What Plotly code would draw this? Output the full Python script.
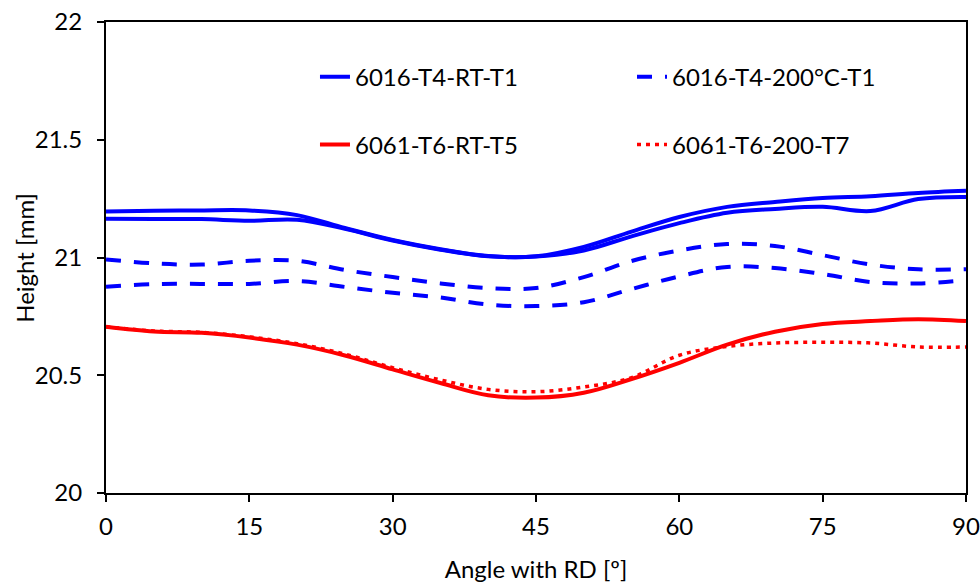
import plotly.graph_objects as go

# Angle from rolling direction (degrees)
angle = [0, 5, 10, 15, 20, 25, 30, 35, 40, 45, 50, 55, 60, 65, 70, 75, 80, 85, 90]

# Cup heights [mm]
t4_rt_a = [21.195, 21.198, 21.20, 21.20, 21.18, 21.125, 21.074, 21.035, 21.006, 21.005,
           21.045, 21.11, 21.172, 21.215, 21.236, 21.253, 21.26, 21.274, 21.283]
t4_rt_b = [21.165, 21.164, 21.163, 21.156, 21.16, 21.122, 21.072, 21.033, 21.005, 21.004,
           21.03, 21.09, 21.146, 21.19, 21.206, 21.215, 21.197, 21.248, 21.257]
t4_200_a = [20.992, 20.975, 20.97, 20.986, 20.986, 20.947, 20.917, 20.89, 20.87, 20.87,
            20.917, 20.985, 21.03, 21.057, 21.049, 21.01, 20.97, 20.95, 20.95]
t4_200_b = [20.876, 20.887, 20.888, 20.888, 20.90, 20.875, 20.85, 20.83, 20.80, 20.794,
            20.81, 20.866, 20.92, 20.96, 20.955, 20.93, 20.896, 20.89, 20.904]
t6_rt = [20.706, 20.686, 20.68, 20.66, 20.63, 20.584, 20.525, 20.467, 20.415, 20.405,
         20.426, 20.484, 20.553, 20.63, 20.685, 20.718, 20.73, 20.738, 20.73]
t6_200 = [20.706, 20.688, 20.682, 20.663, 20.634, 20.59, 20.532, 20.48, 20.44, 20.43,
          20.45, 20.49, 20.585, 20.622, 20.637, 20.64, 20.637, 20.62, 20.62]

x_ticks = [0, 15, 30, 45, 60, 75, 90]
y_ticks = [20, 20.5, 21, 21.5, 22]

BLUE = "#0000FF"
RED = "#FF0000"
FONT = "Lato"
FS = 24

fig = go.Figure()


def add(y, name, color, dash, width, legend, show):
    fig.add_trace(go.Scatter(
        x=angle, y=y, name=name, mode="lines",
        line=dict(color=color, dash=dash, width=width, shape="spline", smoothing=1.0),
        legend=legend, showlegend=show,
    ))


add(t4_rt_a, "6016-T4-RT-T1", BLUE, "solid", 4, "legend", True)
add(t4_rt_b, "6016-T4-RT-T1", BLUE, "solid", 4, "legend", False)
add(t4_200_a, "6016-T4-200°C-T1", BLUE, "15px,13px", 4, "legend", True)
add(t4_200_b, "6016-T4-200°C-T1", BLUE, "15px,13px", 4, "legend", False)
add(t6_rt, "6061-T6-RT-T5", RED, "solid", 4, "legend2", True)
add(t6_200, "6061-T6-200-T7", RED, "4px,5px", 3.5, "legend2", True)

legend_style = dict(
    orientation="h", x=0.243, xanchor="left", entrywidth=272, entrywidthmode="pixels",
    font=dict(family=FONT, size=FS, color="#000000"), bgcolor="rgba(0,0,0,0)",
    itemwidth=30, traceorder="normal",
)

fig.update_layout(
    width=980, height=583,
    margin=dict(l=106, r=14, t=22, b=90),
    paper_bgcolor="white", plot_bgcolor="white",
    font=dict(family=FONT, size=FS, color="#000000"),
    legend=dict(legend_style, y=0.883, yanchor="middle"),
    legend2=dict(legend_style, y=0.739, yanchor="middle"),
    xaxis=dict(
        range=[0, 90], tickvals=x_ticks, ticktext=[str(v) for v in x_ticks],
        showline=True, linecolor="black", linewidth=2, mirror=True,
        ticks="outside", ticklen=7, tickwidth=2, tickcolor="black",
        showgrid=False, zeroline=False, ticklabelstandoff=4, automargin=False,
        title=dict(text="Angle with RD [º]", font=dict(family=FONT, size=FS), standoff=22),
        tickfont=dict(family=FONT, size=FS),
    ),
    yaxis=dict(
        range=[20, 22], tickvals=y_ticks, ticktext=["20", "20.5", "21", "21.5", "22"],
        showline=True, linecolor="black", linewidth=2, mirror=True,
        ticks="outside", ticklen=7, tickwidth=2, tickcolor="black",
        showgrid=False, zeroline=False, ticklabelstandoff=10, automargin=False,
        tickfont=dict(family=FONT, size=FS),
    ),
    annotations=[dict(
        text="Height [mm]", textangle=-90, showarrow=False,
        xref="paper", yref="paper", x=-0.095, y=0.5, xanchor="center", yanchor="middle",
        font=dict(family=FONT, size=FS, color="#000000"),
    )],
)

fig.write_html("out.html")
